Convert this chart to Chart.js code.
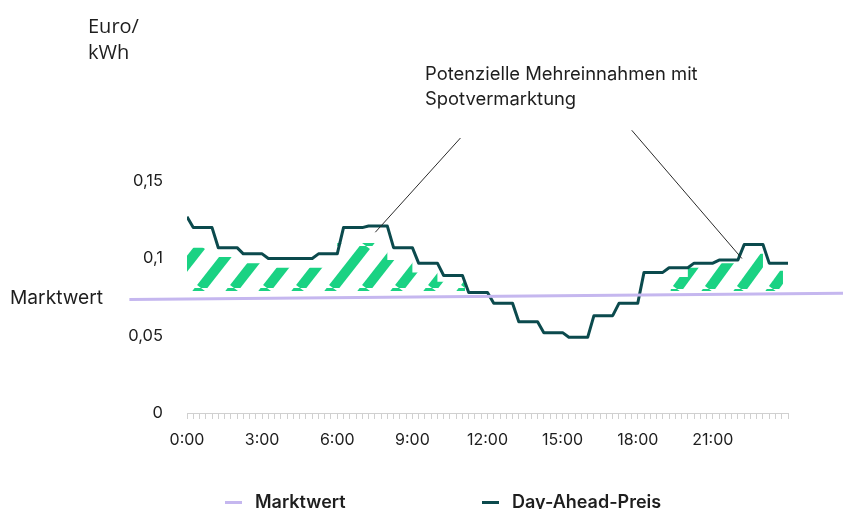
<!DOCTYPE html>
<html lang="de">
<head>
<meta charset="utf-8">
<script src="https://cdn.jsdelivr.net/npm/chart.js@4.4.0/dist/chart.umd.min.js"></script>
<style>
    html, body { margin: 0; padding: 0; background: #fff; }
    #wrap { position: relative; width: 843px; height: 509px; overflow: hidden; }
    #legend { position: absolute; left: 0; top: 491px; width: 843px; height: 22px;
              font-family: Inter, sans-serif; font-size: 18px; font-weight: 600; color: #1e1e1e; }
    .item { position: absolute; top: 0; display: flex; align-items: center; line-height: 22px; white-space: nowrap; }
    .swatch { width: 17px; height: 3px; margin-right: 13px; }
</style>
</head>
<body>
<div id="wrap">
    <canvas id="chart"></canvas>
    <div id="legend"></div>
</div>
<script>
// Day-Ahead-Preis in Euro/kWh, Viertelstundenwerte von 0:00 bis 24:00
const dayAheadPrice = [
    0.127,
    0.120, 0.120, 0.120, 0.120, // 0 Uhr
    0.107, 0.107, 0.107, 0.107, // 1
    0.103, 0.103, 0.103, 0.103, // 2
    0.100, 0.100, 0.100, 0.100, // 3
    0.100, 0.100, 0.100, 0.100, // 4
    0.103, 0.103, 0.103, 0.103, // 5
    0.120, 0.120, 0.120, 0.120, // 6
    0.121, 0.121, 0.121, 0.121, // 7
    0.107, 0.107, 0.107, 0.107, // 8
    0.097, 0.097, 0.097, 0.097, // 9
    0.089, 0.089, 0.089, 0.089, // 10
    0.078, 0.078, 0.078, 0.078, // 11
    0.071, 0.071, 0.071, 0.071, // 12
    0.059, 0.059, 0.059, 0.059, // 13
    0.052, 0.052, 0.052, 0.052, // 14
    0.049, 0.049, 0.049, 0.049, // 15
    0.063, 0.063, 0.063, 0.063, // 16
    0.071, 0.071, 0.071, 0.071, // 17
    0.091, 0.091, 0.091, 0.091, // 18
    0.094, 0.094, 0.094, 0.094, // 19
    0.097, 0.097, 0.097, 0.097, // 20
    0.099, 0.099, 0.099, 0.099, // 21
    0.109, 0.109, 0.109, 0.109, // 22
    0.097, 0.097, 0.097, 0.097  // 23
];

// Marktwert (Linie läuft über die Achse hinaus)
const marktwertHours = [-2.3, 26.2];
const marktwertValues = [0.0735, 0.0775];

// Schraffur "Potenzielle Mehreinnahmen": obere Kante pro Stunde
const hatchMorningHours = [0, 1, 2, 3, 4, 5, 6, 7, 8, 9, 10, 11.1];
const hatchMorningTop = [0.107, 0.107, 0.101, 0.097, 0.094, 0.094, 0.094, 0.110, 0.110, 0.099, 0.091, 0.085];
const hatchEveningHours = [19.3, 20, 21, 22, 23, 23.8];
const hatchEveningTop = [0.088, 0.088, 0.094, 0.097, 0.103, 0.092];
const hatchBase = 0.079;

// Achsenbeschriftung
const xTickHours = [0, 3, 6, 9, 12, 15, 18, 21];
const xTickLabels = ['0:00', '3:00', '6:00', '9:00', '12:00', '15:00', '18:00', '21:00'];
const yTickValues = [0, 0.05, 0.1, 0.15];
const yTickLabels = ['0', '0,05', '0,1', '0,15'];

const priceColor = '#0b4a4d';
const marktwertColor = '#c5b7ef';
const hatchColor = '#1ad283';
const textColor = '#1e1e1e';

// Hinweislinien zur Beschriftung (Stunde, Wert) -> (Stunde, Wert)
const leaderLines = [
    [10.92, 0.178, 7.52, 0.117],
    [17.76, 0.183, 22.16, 0.100]
];

function makeHatch(period, rise, offsetX, offsetY) {
    const tile = document.createElement('canvas');
    tile.width = period;
    tile.height = rise;
    const c = tile.getContext('2d');
    c.strokeStyle = hatchColor;
    c.lineWidth = 10;
    for (let k = -1; k <= 1; k++) {
        c.beginPath();
        c.moveTo(k * period, rise);
        c.lineTo(k * period + period, 0);
        c.stroke();
    }
    const pattern = c.createPattern(tile, 'repeat');
    pattern.setTransform(new DOMMatrix().translate(offsetX, offsetY));
    return pattern;
}

function toPoints(xs, ys) {
    return xs.map((x, i) => ({ x: x, y: ys[i] }));
}

// Beschriftungen und Hinweislinien
const annotationPlugin = {
    id: 'annotations',
    afterDraw(chart) {
        const { ctx, scales: { x, y } } = chart;
        ctx.save();
        ctx.strokeStyle = '#2a2a2a';
        ctx.lineWidth = 1;
        leaderLines.forEach(l => {
            ctx.beginPath();
            ctx.moveTo(x.getPixelForValue(l[0]), y.getPixelForValue(l[1]));
            ctx.lineTo(x.getPixelForValue(l[2]), y.getPixelForValue(l[3]));
            ctx.stroke();
        });
        ctx.fillStyle = textColor;
        ctx.textAlign = 'left';
        ctx.textBaseline = 'middle';
        ctx.font = '18.4px Inter';
        ctx.fillText('Potenzielle Mehreinnahmen mit', 425, 74);
        ctx.fillText('Spotvermarktung', 425, 99);
        ctx.font = '19.2px Inter';
        ctx.fillText('Marktwert', 10, 298);
        ctx.font = '20px "Open Sans"';
        ctx.fillText('Euro/', 88, 27);
        ctx.fillText('kWh', 88, 53);
        ctx.restore();
    }
};

const chartCtx = document.getElementById('chart').getContext('2d');
const chart = new Chart(chartCtx, {
    type: 'line',
    data: {
        datasets: [
            {
                label: 'Marktwert',
                data: toPoints(marktwertHours, marktwertValues),
                borderColor: marktwertColor,
                borderWidth: 3,
                pointRadius: 0,
                clip: false,
                order: 1
            },
            {
                label: 'Day-Ahead-Preis',
                data: dayAheadPrice.map((v, i) => ({ x: i / 4, y: v })),
                borderColor: priceColor,
                borderWidth: 3,
                borderJoinStyle: 'round',
                pointRadius: 0,
                order: 2
            },
            {
                label: 'Mehreinnahmen morgens',
                data: toPoints(hatchMorningHours, hatchMorningTop),
                stepped: 'after',
                borderWidth: 0,
                borderColor: 'rgba(0,0,0,0)',
                pointRadius: 0,
                fill: { target: { value: hatchBase }, above: makeHatch(33, 42, 201, 288), below: 'rgba(0,0,0,0)' },
                order: 3
            },
            {
                label: 'Mehreinnahmen abends',
                data: toPoints(hatchEveningHours, hatchEveningTop),
                stepped: 'after',
                borderWidth: 0,
                borderColor: 'rgba(0,0,0,0)',
                pointRadius: 0,
                fill: { target: { value: hatchBase }, above: makeHatch(32, 44, 677, 289), below: 'rgba(0,0,0,0)' },
                order: 3
            }
        ]
    },
    options: {
        responsive: true,
        maintainAspectRatio: false,
        animation: false,
        layout: { padding: { top: 104, right: 55, left: 0, bottom: 0 } },
        plugins: {
            legend: { display: false },
            tooltip: { enabled: false }
        },
        scales: {
            x: {
                type: 'linear',
                min: 0,
                max: 24,
                afterFit: scale => { scale.height = 96; },
                ticks: {
                    stepSize: 0.25,
                    autoSkip: false,
                    maxRotation: 0,
                    padding: 12,
                    color: textColor,
                    font: { family: 'Inter', size: 16 },
                    callback: v => {
                        const i = xTickHours.indexOf(v);
                        return i >= 0 ? xTickLabels[i] : '';
                    }
                },
                grid: { drawOnChartArea: false, tickLength: 6, color: '#d0d0d0' },
                border: { color: '#d0d0d0' }
            },
            y: {
                min: 0,
                max: 0.2,
                afterFit: scale => { scale.width = 187; },
                ticks: {
                    stepSize: 0.05,
                    padding: 16,
                    color: textColor,
                    font: { family: 'Inter', size: 16.5 },
                    callback: v => {
                        const i = yTickValues.indexOf(Math.round(v * 100) / 100);
                        return i >= 0 ? yTickLabels[i] : '';
                    }
                },
                grid: { display: false },
                border: { display: false }
            }
        }
    },
    plugins: [annotationPlugin]
});

// Legende unter dem Diagramm
const legendLeft = [225, 482];
const legendBox = document.getElementById('legend');
chart.data.datasets.slice(0, 2).forEach((ds, i) => {
    const item = document.createElement('div');
    item.className = 'item';
    item.style.left = legendLeft[i] + 'px';
    const swatch = document.createElement('span');
    swatch.className = 'swatch';
    swatch.style.background = ds.borderColor;
    const text = document.createElement('span');
    text.textContent = ds.label;
    item.appendChild(swatch);
    item.appendChild(text);
    legendBox.appendChild(item);
});
</script>
</body>
</html>
